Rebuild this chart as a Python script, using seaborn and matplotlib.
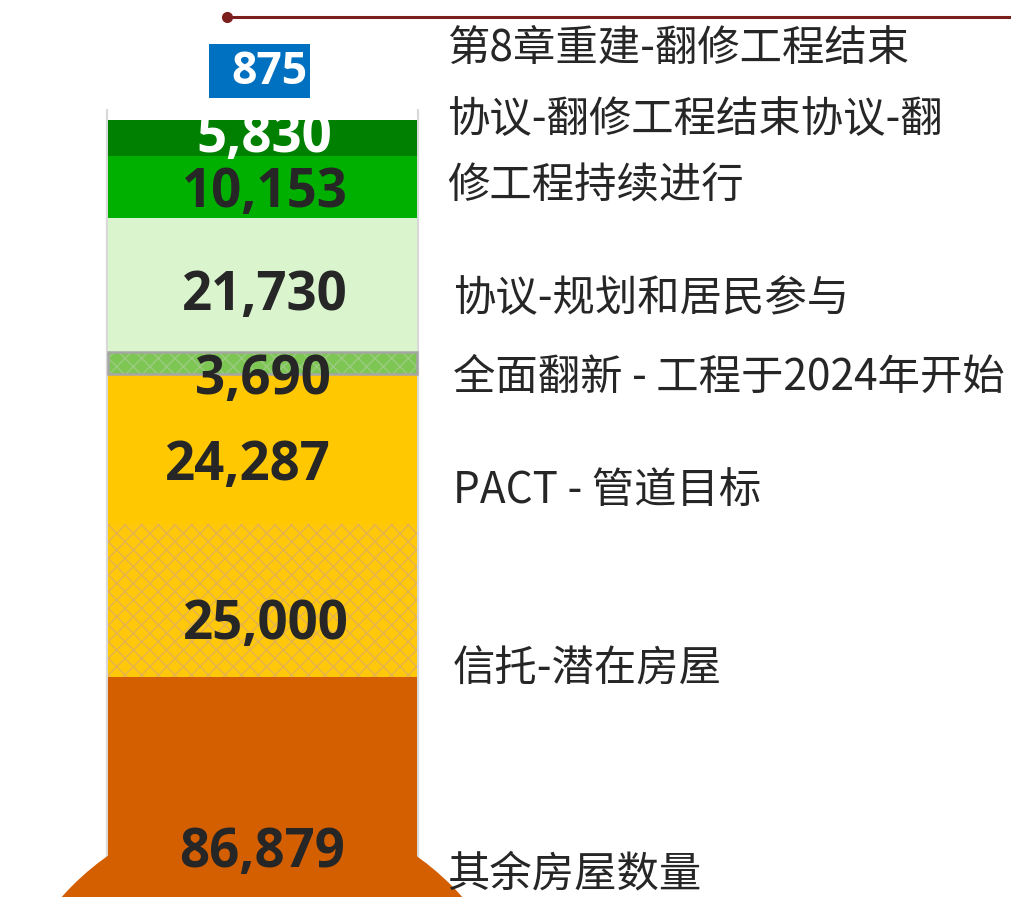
import matplotlib
matplotlib.use("Agg")
import matplotlib.pyplot as plt
import matplotlib.transforms as mtransforms
import seaborn as sns
from matplotlib.patches import Ellipse, Rectangle

# ---- data ----
segments = ["其余房屋数量", "信托-潜在房屋", "PACT - 管道目标", "全面翻新 - 工程于2024年开始",
            "协议-规划和居民参与", "协议-翻修工程持续进行", "协议-翻修工程结束", "第8章重建-翻修工程结束"]
values = [86879, 25000, 24287, 3690, 21730, 10153, 5830, 875]
right_labels = ["第8章重建-翻修工程结束", "协议-翻修工程结束协议-翻", "修工程持续进行",
                "协议-规划和居民参与", "全面翻新 - 工程于2024年开始", "PACT - 管道目标",
                "信托-潜在房屋", "其余房屋数量"]

# ---- style ----
colors = ["#D35F00", "#FFC80A", "#FFC800", "#7DC653", "#DAF5CE", "#00B000", "#008000", "#FFFFFF"]
hatches = [None, "xx", None, "xx", None, None, None, None]
hatch_colors = [None, "#E3B350", None, "#9BCB80", None, None, None, None]
label_colors = ["#262626"] * 6 + ["white", "white"]
label_offsets = [(0, 91), (3, -25), (-15, -17), (0, -17), (2, -11), (2, -6), (2, 0), (7, 45)]
right_pos = [(447, 49), (447, 120), (447, 186), (453, 298), (453, 378), (453, 491), (453, 670), (447, 874)]

W, H = 1012, 897
YMIN, YMAX = 51041, 197163
XMIN, XMAX = -0.8495, 2.4256

sns.set_style("white")
plt.rcParams['font.family'] = ['Noto Sans CJK SC', 'DejaVu Sans']

fig = plt.figure(figsize=(W / 100, H / 100), dpi=100)
ax = fig.add_axes([0, 0, 1, 1])

bottom = 0
for i, v in enumerate(values):
    kw = dict(edgecolor="none", linewidth=0)
    if hatches[i]:
        kw = dict(edgecolor=hatch_colors[i], linewidth=0, hatch=hatches[i])
    sns.barplot(x=[0], y=[v], bottom=bottom, color=colors[i], saturation=1, width=1,
                ax=ax, zorder=2 if i < 7 else 4, **kw)
    if i == 3:
        ax.bar([0], [v], bottom=bottom, width=1, facecolor="none", edgecolor="#A6A6A6",
               linewidth=1.8, zorder=3)
    bottom += v

total = sum(values)
ax.set_xlim(XMIN, XMAX)
ax.set_ylim(YMIN, YMAX)
ax.axis("off")

# tube outline
ax.vlines([-0.503, 0.503], YMIN, total + 1000, color="#D9D9D9", linewidth=1.6, zorder=1.5)

# bulb
px_per_x = W / (XMAX - XMIN)
units_per_py = (YMAX - YMIN) / H
r = 268
cx = XMIN + 262 / px_per_x
cy = YMAX - 1075 * units_per_py
ax.add_patch(Ellipse((cx, cy), 2 * r / px_per_x, 2 * r * units_per_py,
                     facecolor=colors[0], edgecolor="none", zorder=2, clip_on=False))

# value labels
bottom = 0
for i, v in enumerate(values):
    yc = bottom + v / 2
    bottom += v
    kws = dict(fontsize=38, fontweight="bold", family="Open Sans")
    if i == 7:
        kws["fontsize"] = 32
        tr = mtransforms.IdentityTransform() + mtransforms.ScaledTranslation(0, yc, ax.transData)
        ax.add_patch(Rectangle((-53.5, 19.6), 101, 54, transform=tr, facecolor="#0070C0",
                               edgecolor="none", zorder=5, clip_on=False))
    ax.annotate(f"{v:,}", (0, yc), xytext=label_offsets[i], textcoords="offset pixels",
                ha="center", va="center", color=label_colors[i], annotation_clip=False,
                zorder=3 if i == 6 else 6, **kws)

# right-hand labels
for txt, (px, py) in zip(right_labels, right_pos):
    fig.text(px / W, 1 - py / H, txt, ha="left", va="center", fontsize=30.5,
             color="#262626", family=["Noto Sans CJK SC", "DejaVu Sans"])

# top rule line
x0 = XMIN + 227 / px_per_x
yl = YMAX - 17 * units_per_py
ax.plot([x0, XMAX], [yl, yl], color="#7B1E1E", linewidth=2.2, marker="o", markersize=7,
        markevery=[0], clip_on=False, zorder=6)

fig.savefig("out.png", dpi=100)
